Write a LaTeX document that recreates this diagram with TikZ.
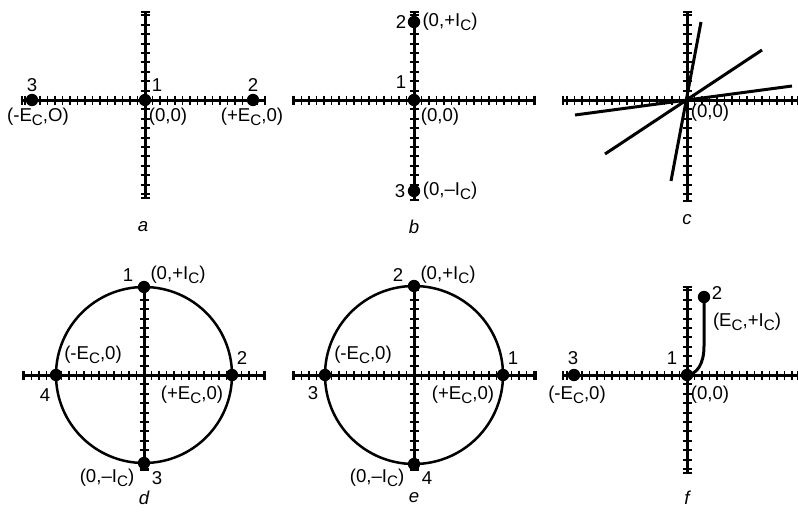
\documentclass[tikz,border=0pt]{standalone}
\usepackage{fontspec}
\setmainfont{Liberation Sans}
\usetikzlibrary{calc}
\def\tkx{7.5}
\def\tky{9.4}
\newcommand{\Ec}{E\raisebox{-.45ex}{\fontsize{7.6}{8}\selectfont C}}
\newcommand{\Ic}{I\raisebox{-.45ex}{\fontsize{7.6}{8}\selectfont C}}
\newcommand{\axes}[6]{%
  \draw[axis] ({#1-#3},#2) -- ({#1+#4},#2);
  \draw[axis] (#1,{#2-#5}) -- (#1,{#2+#6});
  \pgfmathtruncatemacro\nL{-#3/\tkx}
  \pgfmathtruncatemacro\nR{#4/\tkx}
  \pgfmathtruncatemacro\nU{-#5/\tky}
  \pgfmathtruncatemacro\nD{#6/\tky}
  \foreach \i in {\nL,...,\nR} \draw[tick] ({#1+\i*\tkx},{#2-4.5}) -- ++(0,9);
  \foreach \i in {\nU,...,\nD} \draw[tick] ({#1-4.5},{#2+\i*\tky}) -- ++(9,0);
  \draw[tick] ({#1-#3},{#2-4.5}) -- ++(0,9) ({#1+#4},{#2-4.5}) -- ++(0,9)
              ({#1-4.5},{#2-#5}) -- ++(9,0) ({#1-4.5},{#2+#6}) -- ++(9,0);
}
\begin{document}
\begin{tikzpicture}[x=0.5pt, y=-0.5pt,
  axis/.style={line width=1.5pt},
  tick/.style={line width=0.95pt},
  trace/.style={line width=1.25pt},
  dot/.style={circle, fill, inner sep=0pt, minimum size=6.2pt},
  lab/.style={font=\fontsize{9.3}{11}\selectfont, inner sep=0pt},
  panel/.style={font=\fontsize{9.3}{11}\selectfont\itshape, inner sep=0pt}]
\useasboundingbox (0,0) rectangle (798,514);

% a
\axes{145}{100}{123}{120}{88}{98}
\node[dot] (a3) at (32,100) {};
\node[dot] (a1) at (145,100) {};
\node[dot] (a2) at (253,100) {};
\node[lab] (a3n) at (32,85) {3};
\node[lab] (a1n) at (157,85) {1};
\node[lab] (a2n) at (253,85) {2};
\node[lab] (a3p) at (38,117) {(-\Ec,O)};
\node[lab] (a1p) at (168,117) {(0,0)};
\node[lab] (a2p) at (252,117) {(+\Ec,0)};
\node[panel] (acap) at (143,227) {a};

% b
\axes{414}{100}{121}{121}{88}{100}
\node[dot] (b2) at (414,22) {};
\node[dot] (b1) at (414,100) {};
\node[dot] (b3) at (414,191) {};
\node[lab] (b2n) at (401,22) {2};
\node[lab] (b1n) at (401,82) {1};
\node[lab] (b3n) at (400,191) {3};
\node[lab] (b2p) at (450,22) {(0,+\Ic)};
\node[lab] (b1p) at (440,117) {(0,0)};
\node[lab] (b3p) at (450,191) {(0,--\Ic)};
\node[panel] (bcap) at (414,227) {b};

% c
\axes{687}{100}{124}{111}{88}{101}
\coordinate (c1a) at (671,181); \coordinate (c1b) at (701,22);
\coordinate (c2a) at (605,154); \coordinate (c2b) at (762,50);
\coordinate (c3a) at (575,115); \coordinate (c3b) at (792,86);
\draw[axis] (c1a) -- (c1b);
\draw[axis] (c2a) -- (c2b);
\draw[axis] (c3a) -- (c3b);
\node[lab] (c0p) at (710,113) {(0,0)};
\node[panel] (ccap) at (687,220) {c};

% d
\axes{144}{375}{121}{121}{87}{95}
\coordinate (d0) at (144,375);
\draw[trace] (d0) circle[radius=88];
\node[dot] (d1) at (144,287) {};
\node[dot] (d2) at (232,375) {};
\node[dot] (d3) at (144,463) {};
\node[dot] (d4) at (56,375) {};
\node[lab] (d1n) at (128,275) {1};
\node[lab] (d2n) at (242,358) {2};
\node[lab] (d3n) at (157,478) {3};
\node[lab] (d4n) at (45,395) {4};
\node[lab] (d1p) at (178,275) {(0,+\Ic)};
\node[lab] (d2p) at (192,395) {(+\Ec,0)};
\node[lab] (d3p) at (107,478) {(0,--\Ic)};
\node[lab] (d4p) at (93,355) {(-\Ec,0)};
\node[panel] (dcap) at (144,498) {d};

% e
\axes{414}{375}{121}{122}{87}{95}
\coordinate (e0) at (414,375);
\draw[trace] (e0) circle[radius=89];
\node[dot] (e2) at (414,286) {};
\node[dot] (e1) at (503,375) {};
\node[dot] (e4) at (414,464) {};
\node[dot] (e3) at (325,375) {};
\node[lab] (e2n) at (398,275) {2};
\node[lab] (e1n) at (513,358) {1};
\node[lab] (e4n) at (427,478) {4};
\node[lab] (e3n) at (313,393) {3};
\node[lab] (e2p) at (448,275) {(0,+\Ic)};
\node[lab] (e1p) at (463,395) {(+\Ec,0)};
\node[lab] (e4p) at (377,478) {(0,--\Ic)};
\node[lab] (e3p) at (363,355) {(-\Ec,0)};
\node[panel] (ecap) at (414,498) {e};

% f
\axes{687}{375}{124}{111}{88}{98}
\node[dot] (f3) at (574,375) {};
\node[dot] (f1) at (687,375) {};
\node[dot] (f2) at (704,297) {};
\coordinate (fk) at (704,346);
\draw[trace, line width=1.5pt] (f1.center) .. controls (697,374) and (704,364) .. (fk) -- (f2.center);
\node[lab] (f3n) at (573,358) {3};
\node[lab] (f1n) at (672,358) {1};
\node[lab] (f2n) at (717,293) {2};
\node[lab] (f3p) at (577,395) {(-\Ec,0)};
\node[lab] (f1p) at (710,395) {(0,0)};
\node[lab] (f2p) at (747,322) {(\Ec,+\Ic)};
\node[panel] (fcap) at (687,498) {f};
\end{tikzpicture}
\end{document}
